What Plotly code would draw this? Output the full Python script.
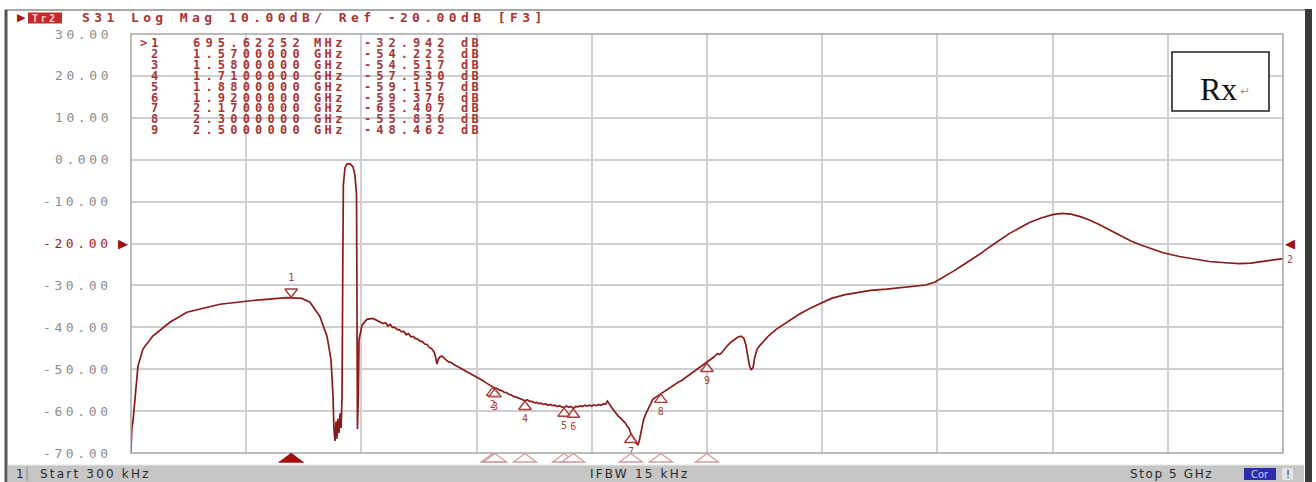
import plotly.graph_objects as go

# ---------------- data ----------------
freq_ghz = [
    0.0003, 0.0040, 0.0087, 0.0174, 0.0304, 0.052, 0.095, 0.169, 0.243, 0.386, 0.530, 0.677,
    0.69562252, 0.742, 0.777, 0.820, 0.851, 0.868, 0.877, 0.881, 0.886, 0.890, 0.894, 0.898,
    0.903, 0.908, 0.912, 0.916, 0.920, 0.922, 0.929, 0.938, 0.951, 0.964, 0.972, 0.979,
    0.981, 0.983, 0.987, 0.990, 1.003, 1.024, 1.050, 1.081,
    1.095, 1.105, 1.115, 1.125, 1.135, 1.145, 1.155, 1.165, 1.175, 1.185, 1.195, 1.205,
    1.215, 1.225, 1.235, 1.245, 1.255, 1.265, 1.275, 1.285, 1.295, 1.305, 1.315, 1.322,
    1.328, 1.334, 1.342, 1.350, 1.360, 1.370, 1.380, 1.390, 1.400, 1.410, 1.420, 1.430,
    1.440, 1.450, 1.460, 1.470, 1.480, 1.490, 1.500, 1.510, 1.520, 1.530, 1.540, 1.550,
    1.560, 1.570, 1.580, 1.590, 1.600, 1.610, 1.620, 1.630, 1.640, 1.650, 1.660, 1.670,
    1.680, 1.690, 1.700, 1.710, 1.720, 1.730, 1.740, 1.750, 1.760, 1.770, 1.780, 1.790,
    1.800, 1.810, 1.820, 1.830, 1.840, 1.850, 1.860, 1.870, 1.880, 1.890, 1.900, 1.910,
    1.920, 1.930, 1.940, 1.950, 1.960, 1.970, 1.980, 1.990, 2.000, 2.010, 2.020, 2.030,
    2.040, 2.050, 2.060, 2.068, 2.076, 2.085, 2.095, 2.105, 2.115, 2.125, 2.135, 2.145,
    2.155, 2.162, 2.170, 2.178, 2.186, 2.193, 2.200, 2.206, 2.212, 2.218, 2.225, 2.235,
    2.245, 2.255, 2.265, 2.280, 2.300, 2.315, 2.330, 2.345, 2.360, 2.375, 2.390, 2.405,
    2.420, 2.435, 2.450, 2.465, 2.480, 2.500, 2.515, 2.530, 2.545, 2.555, 2.565, 2.575,
    2.590, 2.605, 2.620, 2.635, 2.648, 2.660, 2.668, 2.676, 2.684, 2.692, 2.700, 2.708,
    2.718, 2.730, 2.750, 2.770, 2.800, 2.840, 2.870, 2.900, 2.950, 2.990, 3.040, 3.100,
    3.160, 3.210, 3.280, 3.340, 3.400, 3.450, 3.490, 3.530, 3.570, 3.610, 3.650, 3.690,
    3.730, 3.770, 3.810, 3.860, 3.900, 3.950, 4.000, 4.040, 4.080, 4.120, 4.160, 4.200,
    4.250, 4.300, 4.340, 4.380, 4.420, 4.480, 4.550, 4.620, 4.680, 4.750, 4.810, 4.860,
    4.900, 4.950, 5.000,
]
s31_db = [
    -70.0, -64.0, -62.6, -56.4, -49.3, -45.2, -42.1, -38.8, -36.4, -34.5, -33.6, -32.9,
    -32.942, -33.1, -34.0, -37.4, -42.1, -47.6, -56.4, -64.3, -67.1, -62.5, -66.6, -61.8,
    -65.2, -60.5, -64.0, -57.1, -21.4, -6.0, -1.9, -1.0, -1.0, -1.7, -3.6, -8.3,
    -33.3, -64.3, -56.0, -42.9, -39.5, -38.1, -37.9, -38.6,
    -39.1, -38.9, -39.7, -39.3, -40.0, -40.0, -40.5, -40.6, -41.1, -41.0, -41.8, -41.5,
    -42.3, -42.2, -42.7, -42.8, -43.3, -43.4, -44.0, -44.1, -44.8, -45.1, -45.8, -47.0,
    -48.8, -47.6, -47.0, -46.9, -47.5, -47.9, -48.3, -48.4, -48.8, -49.1, -49.4, -49.6,
    -50.0, -50.3, -50.6, -50.9, -51.2, -51.5, -51.9, -52.2, -52.5, -52.8, -53.2, -53.5,
    -53.9, -54.222, -54.517, -54.6, -55.0, -55.1, -55.5, -55.6, -56.0, -56.1, -56.5, -56.6,
    -56.9, -57.0, -57.3, -57.530, -57.3, -57.7, -57.7, -58.0, -57.9, -58.2, -58.1, -58.4,
    -58.3, -58.6, -58.4, -58.7, -58.6, -58.9, -58.7, -59.0, -59.157, -58.8, -59.1, -58.9,
    -59.376, -58.9, -59.0, -58.7, -58.9, -58.6, -58.8, -58.6, -58.8, -58.5, -58.7, -58.4,
    -58.6, -58.3, -58.4, -57.6, -58.4, -59.0, -59.8, -60.6, -61.2, -61.7, -62.3, -62.8,
    -63.7, -64.2, -65.407, -66.2, -66.8, -67.6, -68.0, -67.2, -65.5, -63.6, -62.0, -60.6,
    -59.4, -58.0, -57.2, -56.6, -55.836, -55.3, -54.7, -54.2, -53.7, -53.1, -52.7, -52.1,
    -51.6, -50.9, -50.4, -49.8, -49.3, -48.462, -47.8, -47.1, -46.3, -46.5, -46.0, -45.2,
    -44.3, -43.5, -42.8, -42.3, -42.1, -42.6, -44.0, -46.5, -49.0, -50.2, -49.6, -47.0,
    -45.2, -44.3, -43.0, -41.9, -40.5, -39.1, -37.9, -36.9, -35.4, -34.3, -33.1, -32.2,
    -31.6, -31.2, -30.9, -30.6, -30.3, -29.9, -29.2, -28.0, -26.6, -25.2, -23.8, -22.3,
    -20.7, -19.1, -17.7, -16.2, -15.0, -13.9, -13.1, -12.8, -13.0, -13.6, -14.4, -15.4,
    -16.8, -18.3, -19.4, -20.3, -21.1, -22.2, -23.1, -23.8, -24.3, -24.6, -24.8, -24.7,
    -24.4, -24.0, -23.6,
]

marker_ids = ["1", "2", "3", "4", "5", "6", "7", "8", "9"]
marker_freq_ghz = [0.69562252, 1.57, 1.58, 1.71, 1.88, 1.92, 2.17, 2.30, 2.50]
marker_db = [-32.942, -54.222, -54.517, -57.530, -59.157, -59.376, -65.407, -55.836, -48.462]
marker_freq_text = ["695.62252", "1.5700000", "1.5800000", "1.7100000", "1.8800000",
                    "1.9200000", "2.1700000", "2.3000000", "2.5000000"]
marker_units = ["MHz", "GHz", "GHz", "GHz", "GHz", "GHz", "GHz", "GHz", "GHz"]
marker_val_text = ["-32.942", "-54.222", "-54.517", "-57.530", "-59.157",
                   "-59.376", "-65.407", "-55.836", "-48.462"]

y_tick_vals = [30, 20, 10, 0, -10, -20, -30, -40, -50, -60, -70]
y_tick_text = ["30.00", "20.00", "10.00", "0.000", "-10.00", "-20.00",
               "-30.00", "-40.00", "-50.00", "-60.00", "-70.00"]
ref_level_db = -20

title_text = "S31 Log Mag 10.00dB/ Ref -20.00dB [F3]"
start_text = "Start 300 kHz"
ifbw_text = "IFBW 15 kHz"
stop_text = "Stop 5 GHz"

# ---------------- geometry helpers ----------------
W, H = 1316, 482
L, R, T, B = 131, 1283, 34, 453


def px(x):
    return (x - L) / (R - L)


def py(y):
    return (B - y) / (B - T)


TRACE = "#8b1a1a"
MK = "#a83c3c"
TXT = "#a83434"
GRID = "#cfcfcf"
MONO = "DejaVu Sans Mono"


def spaced(s, sp, bold=False):
    t = '<span style="letter-spacing:%spx">%s</span>' % (sp, s)
    return "<b>" + t + "</b>" if bold else t


fig = go.Figure()

fig.add_trace(go.Scatter(x=freq_ghz, y=s31_db, mode="lines",
                         line=dict(color=TRACE, width=1.7), hoverinfo="skip",
                         showlegend=False))

# markers on the trace
dpp = 100.0 / (B - T)  # dB per pixel
fig.add_trace(go.Scatter(x=[marker_freq_ghz[0]], y=[marker_db[0] + 6 * dpp],
                         mode="markers+text", text=[marker_ids[0]],
                         textposition="top center",
                         textfont=dict(family=MONO, size=10, color=MK),
                         marker=dict(symbol="triangle-down", size=11, color="white",
                                     line=dict(color=MK, width=1.4)),
                         showlegend=False, hoverinfo="skip", cliponaxis=False))
fig.add_trace(go.Scatter(x=marker_freq_ghz[1:], y=[v - 6 * dpp for v in marker_db[1:]],
                         mode="markers+text", text=marker_ids[1:],
                         textposition="bottom center",
                         textfont=dict(family=MONO, size=10, color=MK),
                         marker=dict(symbol="triangle-up", size=11, color="rgba(255,255,255,0.6)",
                                     line=dict(color=MK, width=1.4)),
                         showlegend=False, hoverinfo="skip", cliponaxis=False))

shapes = []
annotations = []

# outer window frame
shapes.append(dict(type="line", xref="paper", yref="paper", x0=px(5), x1=px(1306),
                   y0=py(10), y1=py(10), line=dict(color="#a9a9a9", width=2)))
shapes.append(dict(type="line", xref="paper", yref="paper", x0=px(6), x1=px(6),
                   y0=py(10), y1=py(482), line=dict(color="#555555", width=3)))
shapes.append(dict(type="rect", xref="paper", yref="paper", x0=px(1305), x1=px(1312),
                   y0=py(9), y1=py(482), line=dict(width=0), fillcolor="#3a3a3a"))
# plot frame
shapes.append(dict(type="rect", xref="paper", yref="paper", x0=0, x1=1, y0=0, y1=1,
                   line=dict(color="#a5a5a5", width=1.5)))

# bottom marker triangles (derived from marker frequencies)
hw = 11.5 * 5.0 / (R - L)
for i, f in enumerate(marker_freq_ghz):
    active = i == 0
    shapes.append(dict(type="path", xref="x", yref="paper",
                       path="M %f,%f L %f,%f L %f,%f Z" % (f - hw, py(462), f, py(453.5), f + hw, py(462)),
                       fillcolor="#a51010" if active else "white",
                       line=dict(color="#a51010" if active else "#d49a9a", width=1.3)))

# y tick labels
for v, t in zip(y_tick_vals, y_tick_text):
    col = "#9b1c1c" if v == ref_level_db else "#8c8c8c"
    annotations.append(dict(xref="paper", yref="y", x=px(114), y=v, xanchor="right",
                            yanchor="middle", showarrow=False,
                            text=spaced(t, 3.6), font=dict(family=MONO, size=13, color=col)))

# reference level arrows
annotations.append(dict(xref="paper", yref="y", x=px(130), y=ref_level_db, xanchor="right",
                        yanchor="middle", showarrow=False, text="\u25B6",
                        font=dict(family="DejaVu Sans", size=13, color="#a01010")))
annotations.append(dict(xref="paper", yref="y", x=px(1283), y=ref_level_db, xanchor="left",
                        yanchor="middle", showarrow=False, text="\u25C0",
                        font=dict(family="DejaVu Sans", size=13, color="#a01010")))
annotations.append(dict(xref="paper", yref="paper", x=px(1290), y=py(259), xanchor="center",
                        yanchor="middle", showarrow=False, text="2",
                        font=dict(family=MONO, size=10, color="#b04848")))

# title bar
annotations.append(dict(xref="paper", yref="paper", x=px(15), y=py(17.5), xanchor="left",
                        yanchor="middle", showarrow=False, text="\u25B6",
                        font=dict(family="DejaVu Sans", size=11, color="#b01010")))
shapes.append(dict(type="rect", xref="paper", yref="paper", x0=px(28), x1=px(62),
                   y0=py(23.5), y1=py(12.5), line=dict(width=0), fillcolor="#c42a2a"))
annotations.append(dict(xref="paper", yref="paper", x=px(45), y=py(18), xanchor="center",
                        yanchor="middle", showarrow=False, text=spaced("Tr2", 2.5, True),
                        font=dict(family=MONO, size=10, color="#ffc8c8")))
annotations.append(dict(xref="paper", yref="paper", x=px(80), y=py(17.5), xanchor="left",
                        yanchor="middle", showarrow=False, text=spaced(title_text, 4.4, True),
                        font=dict(family=MONO, size=13, color=TXT)))

# marker table
for i in range(len(marker_ids)):
    yc = py(43.3 + 10.85 * i)
    idx = (">" + marker_ids[i]) if i == 0 else marker_ids[i]
    annotations.append(dict(xref="paper", yref="paper", x=px(164), y=yc, xanchor="right",
                            yanchor="middle", showarrow=False, text=spaced(idx, 4.0, True),
                            font=dict(family=MONO, size=12, color=TXT)))
    annotations.append(dict(xref="paper", yref="paper", x=px(191), y=yc, xanchor="left",
                            yanchor="middle", showarrow=False,
                            text=spaced(marker_freq_text[i], 5.2, True),
                            font=dict(family=MONO, size=12, color=TXT)))
    annotations.append(dict(xref="paper", yref="paper", x=px(312), y=yc, xanchor="left",
                            yanchor="middle", showarrow=False,
                            text=spaced(marker_units[i], 3.4, True),
                            font=dict(family=MONO, size=12, color=TXT)))
    annotations.append(dict(xref="paper", yref="paper", x=px(362), y=yc, xanchor="left",
                            yanchor="middle", showarrow=False,
                            text=spaced(marker_val_text[i], 5.0, True),
                            font=dict(family=MONO, size=12, color=TXT)))
    annotations.append(dict(xref="paper", yref="paper", x=px(459), y=yc, xanchor="left",
                            yanchor="middle", showarrow=False, text=spaced("dB", 3.2, True),
                            font=dict(family=MONO, size=12, color=TXT)))

# Rx box
shapes.append(dict(type="rect", xref="paper", yref="paper", x0=px(1172), x1=px(1269),
                   y0=py(111), y1=py(52), line=dict(color="#222222", width=1.6),
                   fillcolor="white"))
annotations.append(dict(xref="paper", yref="paper", x=px(1239), y=py(89), xanchor="right",
                        yanchor="middle", showarrow=False, text="Rx",
                        font=dict(family="Liberation Serif", size=32, color="#111111")))
annotations.append(dict(xref="paper", yref="paper", x=px(1238), y=py(91), xanchor="left",
                        yanchor="middle", showarrow=False, text="\u21B5",
                        font=dict(family="DejaVu Sans", size=12, color="#9a9a9a")))

# status bar
shapes.append(dict(type="rect", xref="paper", yref="paper", x0=px(8), x1=px(1304),
                   y0=py(482), y1=py(465), line=dict(width=0), fillcolor="#c6c6c6"))
shapes.append(dict(type="line", xref="paper", yref="paper", x0=px(8), x1=px(1304),
                   y0=py(465), y1=py(465), line=dict(color="#e6e6e6", width=1)))
shapes.append(dict(type="line", xref="paper", yref="paper", x0=px(27), x1=px(27),
                   y0=py(481), y1=py(467), line=dict(color="#8a8a8a", width=1)))
SB = dict(family="DejaVu Sans", size=12, color="#2a2a2a")
annotations.append(dict(xref="paper", yref="paper", x=px(14), y=py(474), xanchor="left",
                        yanchor="middle", showarrow=False, text="1", font=SB))
annotations.append(dict(xref="paper", yref="paper", x=px(38), y=py(474), xanchor="left",
                        yanchor="middle", showarrow=False, text=spaced(start_text, 2.2), font=SB))
annotations.append(dict(xref="paper", yref="paper", x=px(588), y=py(474), xanchor="left",
                        yanchor="middle", showarrow=False, text=spaced(ifbw_text, 2.2), font=SB))
annotations.append(dict(xref="paper", yref="paper", x=px(1128), y=py(474), xanchor="left",
                        yanchor="middle", showarrow=False, text=spaced(stop_text, 1.6), font=SB))
shapes.append(dict(type="rect", xref="paper", yref="paper", x0=px(1244), x1=px(1276),
                   y0=py(480), y1=py(468), line=dict(width=0), fillcolor="#2c2cae"))
annotations.append(dict(xref="paper", yref="paper", x=px(1260), y=py(474), xanchor="center",
                        yanchor="middle", showarrow=False, text="Cor",
                        font=dict(family="DejaVu Sans", size=10, color="#c8d0ff")))
shapes.append(dict(type="rect", xref="paper", yref="paper", x0=px(1282), x1=px(1293),
                   y0=py(480), y1=py(468), line=dict(width=0), fillcolor="#e4e4e4"))
annotations.append(dict(xref="paper", yref="paper", x=px(1287.5), y=py(474), xanchor="center",
                        yanchor="middle", showarrow=False, text="!",
                        font=dict(family="DejaVu Sans", size=10, color="#222222")))

fig.update_layout(
    width=W, height=H,
    margin=dict(l=L, r=W - R, t=T, b=H - B, pad=0),
    paper_bgcolor="white", plot_bgcolor="white",
    showlegend=False,
    shapes=shapes, annotations=annotations,
    xaxis=dict(range=[0.0003, 5.0], tick0=0, dtick=0.5, showgrid=True, gridcolor=GRID,
               gridwidth=1.5, showticklabels=False, ticks="", zeroline=False, showline=False,
               fixedrange=True),
    yaxis=dict(range=[-70, 30], tick0=0, dtick=10, showgrid=True, gridcolor=GRID,
               gridwidth=1.5, showticklabels=False, ticks="", zeroline=False, showline=False,
               fixedrange=True),
)

fig.write_html("out.html", config={"displayModeBar": False},
               post_script="document.body.style.margin='0px';document.body.style.overflow='hidden';")
